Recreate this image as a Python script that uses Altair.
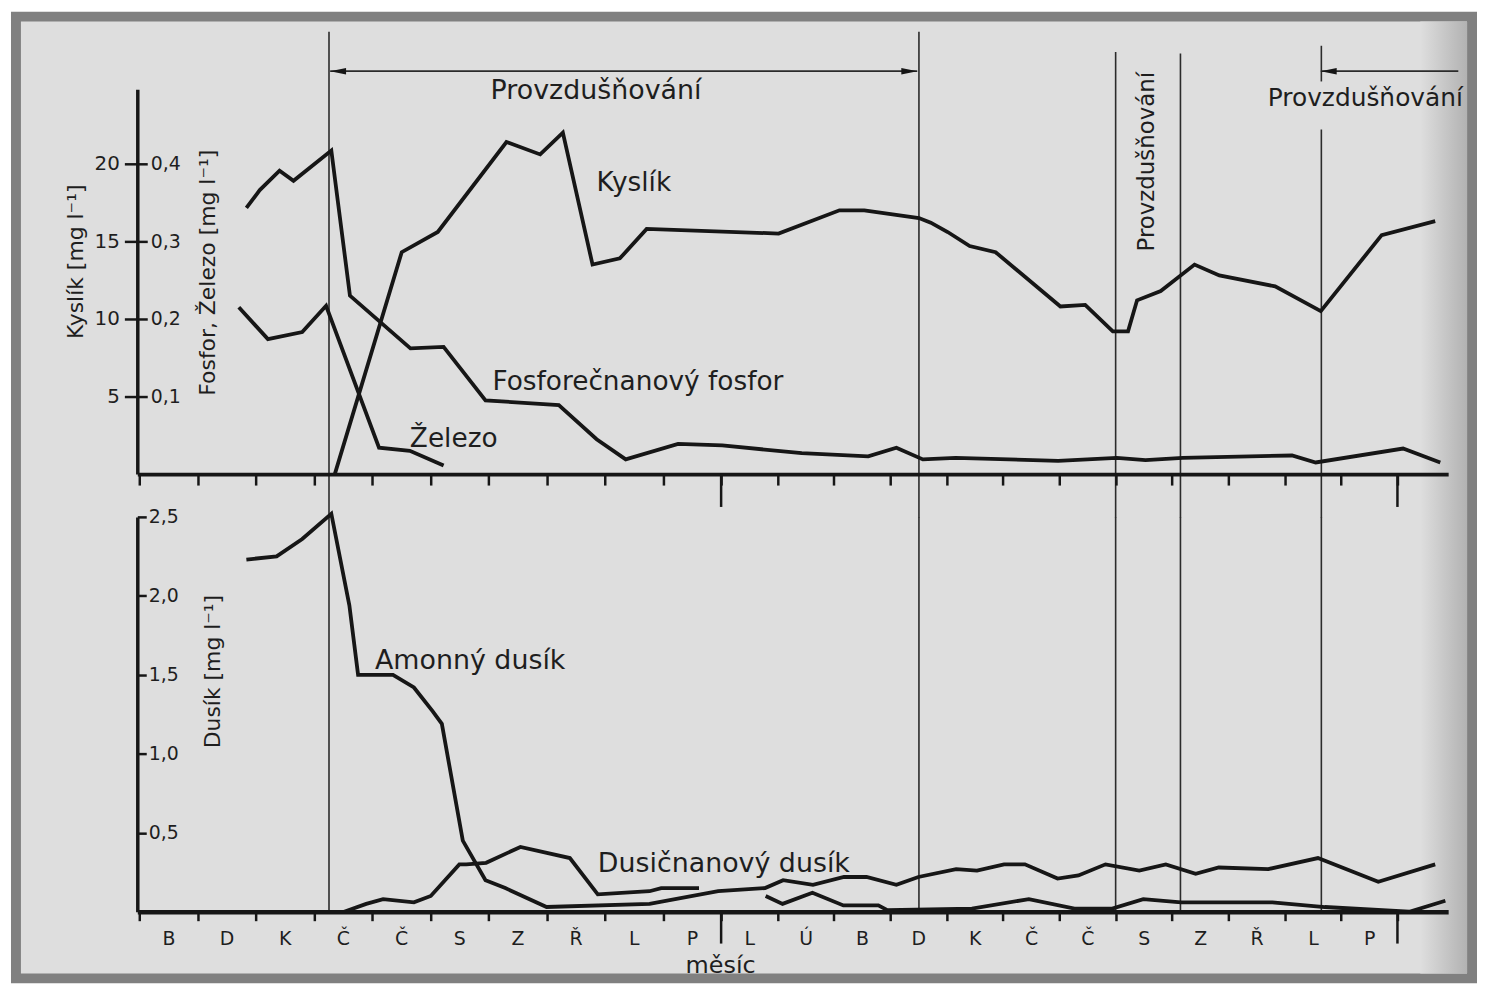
import json
import altair as alt
import pandas as pd

# ---------------- data (x = months since start, y = native units) ----------------
months = ["B", "D", "K", "Č", "Č", "S", "Z", "Ř", "L", "P",
          "L", "Ú", "B", "D", "K", "Č", "Č", "S", "Z", "Ř", "L", "P"]

kyslik_m = [3.36, 4.51, 5.13, 6.31, 6.89, 7.28, 7.79, 8.26, 8.72, 11.02, 12.10, 12.54,
            13.51, 13.72, 14.02, 14.41, 14.87, 16.02, 16.46, 16.95, 17.22, 17.38, 17.80,
            18.40, 18.84, 19.83, 20.64, 21.72, 22.67]
kyslik_v = [0.0, 14.3, 15.6, 21.4, 20.6, 22.0, 13.5, 13.9, 15.8, 15.5, 17.0, 17.0,
            16.5, 16.2, 15.6, 14.7, 14.3, 10.8, 10.9, 9.2, 9.2, 11.2, 11.8,
            13.5, 12.8, 12.1, 10.5, 15.4, 16.3]

fosfor_m = [1.84, 2.07, 2.41, 2.65, 3.30, 3.62, 4.66, 5.23, 5.95, 7.21, 7.86, 8.36, 9.26,
            10.02, 11.43, 12.61, 13.11, 13.58, 14.16, 15.98, 17.02, 17.53, 18.19, 20.13,
            20.55, 22.10, 22.76]
fosfor_v = [0.343, 0.366, 0.391, 0.378, 0.417, 0.230, 0.162, 0.164, 0.095, 0.089, 0.045,
            0.019, 0.039, 0.037, 0.027, 0.023, 0.034, 0.019, 0.021, 0.017, 0.021, 0.018,
            0.021, 0.024, 0.015, 0.033, 0.015]

zelezo_m = [1.71, 2.21, 2.80, 3.21, 4.12, 4.65, 5.23]
zelezo_v = [0.215, 0.174, 0.183, 0.217, 0.034, 0.030, 0.011]

amon_m = [1.84, 2.36, 2.80, 3.30, 3.61, 3.76, 4.36, 4.72, 5.04, 5.20, 5.56, 5.95, 6.29,
          7.00, 8.77, 9.95, 10.78, 11.10, 11.63, 12.18, 12.58, 13.11, 13.50, 14.17, 14.54,
          15.02, 15.39, 15.97, 16.34, 16.82, 17.42, 17.89, 18.42, 18.83, 19.71, 20.59,
          21.66, 22.67]
amon_v = [2.23, 2.25, 2.36, 2.52, 1.94, 1.50, 1.50, 1.42, 1.27, 1.19, 0.45, 0.20, 0.15,
          0.03, 0.05, 0.13, 0.15, 0.20, 0.17, 0.22, 0.22, 0.17, 0.22, 0.27, 0.26,
          0.30, 0.30, 0.21, 0.23, 0.30, 0.26, 0.30, 0.24, 0.28, 0.27, 0.34,
          0.19, 0.30]

dusic_m = [3.52, 3.90, 4.19, 4.72, 5.01, 5.50, 5.62, 5.96, 6.55, 7.40, 7.88, 8.77, 8.97, 9.62]
dusic_v = [0.0, 0.05, 0.08, 0.06, 0.10, 0.30, 0.30, 0.31, 0.41, 0.34, 0.11, 0.13, 0.15, 0.15]

nizky_m = [10.79, 11.09, 11.62, 12.17, 12.79, 12.95, 14.45, 15.46, 16.27, 16.94, 17.49,
           18.16, 19.78, 20.71, 22.21, 22.85]
nizky_v = [0.10, 0.05, 0.12, 0.04, 0.04, 0.01, 0.02, 0.08, 0.02, 0.02, 0.08,
           0.06, 0.06, 0.03, 0.0, 0.07]

aerace_m = [3.26, 13.51, 17.00, 18.15, 20.65]

# ---------------- layout / style ----------------
W, H_TOP, H_BOT = 1318, 387, 397
INK = "#161616"
FONT = "DejaVu Sans"
LW = 3.8

x_scale = alt.Scale(domain=[-0.035, 10, 22, 22.9], range=[0, 587, 1267, W])
y_top = alt.Scale(domain=[0, 24.8], nice=False, zero=False)
y_bot = alt.Scale(domain=[0, 2.5], nice=False, zero=False)

df_kys = pd.DataFrame({"m": kyslik_m, "v": kyslik_v})
df_fe = pd.concat([
    pd.DataFrame({"m": fosfor_m, "v": fosfor_v, "s": "fosfor"}),
    pd.DataFrame({"m": zelezo_m, "v": zelezo_v, "s": "zelezo"}),
])
df_amon = pd.DataFrame({"m": amon_m, "v": amon_v})
df_dusic = pd.DataFrame({"m": dusic_m, "v": dusic_v})
df_nizky = pd.DataFrame({"m": nizky_m, "v": nizky_v})


def XN(f="m:Q"):
    return alt.X(f, scale=x_scale, axis=None)


# ---------------- top panel ----------------
frame = alt.Chart(alt.Data(values=[{}])).mark_rect(
    fill="#dedede", stroke="#808080", strokeWidth=10
).encode(x=alt.value(-122), x2=alt.value(1342), y=alt.value(-73), y2=alt.value(894))

shade = alt.Chart(alt.Data(values=[{}])).mark_rect(
    fill=alt.LinearGradient(
        gradient="linear", x1=0, x2=1, y1=0, y2=0,
        stops=[alt.GradientStop(color="#dedede", offset=0),
               alt.GradientStop(color="#b2b2b2", offset=1)])
).encode(x=alt.value(1290), x2=alt.value(1337), y=alt.value(-68), y2=alt.value(889))

vl_top = pd.DataFrame({
    "m": aerace_m + [aerace_m[-1]],
    "y1": [28.5, 28.5, 27.2, 27.1, 27.6, 22.2],
    "y2": [-2.8, -2.8, -2.8, -2.8, 25.3, -2.8],
})
rules_top = alt.Chart(vl_top).mark_rule(color="#2b2b2b", strokeWidth=1.6).encode(
    x=XN(), y=alt.Y("y1:Q", scale=y_top, axis=None), y2="y2:Q")

kys_line = alt.Chart(df_kys).mark_line(color=INK, strokeWidth=LW).encode(
    x=alt.X("m:Q", scale=x_scale, axis=alt.Axis(
        orient="bottom", values=list(range(23)), labels=False, title=None, grid=False, zindex=1,
        domainColor=INK, domainWidth=4, tickColor=INK, tickWidth=2.5, tickSize=11)),
    y=alt.Y("v:Q", scale=y_top, axis=alt.Axis(
        orient="left", values=[5, 10, 15, 20], format="d", grid=False, zindex=1,
        domainColor=INK, domainWidth=3.5, tickColor=INK, tickWidth=2.5, tickSize=13,
        labelPadding=5, labelFontSize=20, labelColor="#1e1e1e",
        title="Kyslík [mg l⁻¹]", titleFontSize=22, titleAngle=270,
        titleX=-62, titleY=173, titleAlign="center", titleBaseline="middle")),
)

fe_line = alt.Chart(df_fe).transform_calculate(k="datum.v * 50").mark_line(
    color=INK, strokeWidth=LW).encode(
    x=XN(),
    y=alt.Y("k:Q", scale=y_top, axis=alt.Axis(
        orient="right", offset=-W, values=[5, 10, 15, 20], grid=False, domain=False, zindex=1,
        labelExpr="replace(format(datum.value / 50, '.1f'), '.', ',')",
        tickColor=INK, tickWidth=2.5, tickSize=10, labelPadding=3,
        labelFontSize=19, labelColor="#1e1e1e",
        title="Fosfor, Železo [mg l⁻¹]", titleFontSize=22, titleAngle=270,
        titleX=71, titleY=184, titleAlign="center", titleBaseline="middle")),
    detail="s:N",
)

PATH_L = "M0,0L2,-0.42L2,0.42Z"
PATH_R = "M0,0L-2,-0.42L-2,0.42Z"
arrow_lines = alt.Chart(pd.DataFrame({"a": [3.28, 20.64], "b": [13.48, 23.08], "y": [25.96, 25.96]})
                        ).mark_rule(color="#2b2b2b", strokeWidth=1.8).encode(
    x=XN("a:Q"), x2="b:Q", y=alt.Y("y:Q", scale=y_top, axis=None))
arrow_heads = alt.Chart(pd.DataFrame({"m": [3.28, 13.48, 20.64], "y": [25.96] * 3,
                                      "d": ["L", "R", "L"]})).mark_point(
    filled=True, size=256, color=INK, opacity=1).encode(
    x=XN(), y=alt.Y("y:Q", scale=y_top, axis=None),
    shape=alt.Shape("d:N", scale=alt.Scale(domain=["L", "R"], range=[PATH_L, PATH_R]), legend=None))

txt_a1 = alt.Chart(pd.DataFrame({"m": [7.85], "v": [24.17], "t": ["Provzdušňování"]})).mark_text(
    font=FONT, fontSize=27, color="#1e1e1e", align="center", baseline="alphabetic").encode(
    x=XN(), y=alt.Y("v:Q", scale=y_top, axis=None), text="t:N")
txt_a2 = alt.Chart(pd.DataFrame({"m": [21.43], "v": [23.72], "t": ["Provzdušňování"]})).mark_text(
    font=FONT, fontSize=25, color="#1e1e1e", align="center", baseline="alphabetic").encode(
    x=XN(), y=alt.Y("v:Q", scale=y_top, axis=None), text="t:N")
txt_l = alt.Chart(pd.DataFrame({"m": [7.86, 6.07, 4.65], "v": [18.27, 5.45, 1.73],
                                "t": ["Kyslík", "Fosforečnanový fosfor", "Železo"]})).mark_text(
    font=FONT, fontSize=26.5, color="#1e1e1e", align="left", baseline="alphabetic").encode(
    x=XN(), y=alt.Y("v:Q", scale=y_top, axis=None), text="t:N")
txt_v = alt.Chart(pd.DataFrame({"m": [17.55], "v": [20.13], "t": ["Provzdušňování"]})).mark_text(
    font=FONT, fontSize=23, color="#1e1e1e", align="center", baseline="middle", angle=270).encode(
    x=XN(), y=alt.Y("v:Q", scale=y_top, axis=None), text="t:N")

long_top = alt.Chart(pd.DataFrame({"m": [10, 22]})).mark_rule(color=INK, strokeWidth=2.5).encode(
    x=XN(), y=alt.value(H_TOP), y2=alt.value(H_TOP + 33))

top = alt.layer(frame, shade, rules_top, kys_line, fe_line, arrow_lines, arrow_heads,
                txt_a1, txt_a2, txt_l, txt_v, long_top
                ).resolve_axis(x="independent", y="independent").properties(
    width=W, height=H_TOP)

# ---------------- bottom panel ----------------
rules_bot = alt.Chart(pd.DataFrame({"m": aerace_m, "y1": [2.5] * 5, "y2": [0] * 5})).mark_rule(
    color="#2b2b2b", strokeWidth=1.6).encode(
    x=XN(), y=alt.Y("y1:Q", scale=y_bot, axis=None), y2="y2:Q")

amon_line = alt.Chart(df_amon).mark_line(color=INK, strokeWidth=LW).encode(
    x=alt.X("m:Q", scale=x_scale, axis=alt.Axis(
        orient="bottom", values=list(range(23)), labels=False, title=None, grid=False, zindex=1,
        domainColor=INK, domainWidth=4.5, tickColor=INK, tickWidth=2.5, tickSize=9)),
    y=alt.Y("v:Q", scale=y_bot, axis=alt.Axis(
        orient="right", offset=-W, values=[0.5, 1.0, 1.5, 2.0, 2.5], grid=False, zindex=1,
        labelExpr="replace(format(datum.value, '.1f'), '.', ',')",
        domainColor=INK, domainWidth=3.5, tickColor=INK, tickWidth=2.5, tickSize=9,
        labelPadding=2, labelFontSize=19, labelColor="#1e1e1e",
        title="Dusík [mg l⁻¹]", titleFontSize=22, titleAngle=270,
        titleX=76, titleY=155, titleAlign="center", titleBaseline="middle")),
)
dusic_line = alt.Chart(df_dusic).mark_line(color=INK, strokeWidth=LW).encode(
    x=XN(), y=alt.Y("v:Q", scale=y_bot, axis=None))

month_expr = json.dumps(months, ensure_ascii=False) + "[floor(datum.value)]"
nizky_line = alt.Chart(df_nizky).mark_line(color=INK, strokeWidth=LW).encode(
    x=alt.X("m:Q", scale=x_scale, axis=alt.Axis(
        orient="bottom", values=[i + 0.5 for i in range(len(months))], labelExpr=month_expr,
        domain=False, ticks=False, tickSize=0, grid=False, labelPadding=18, zindex=1,
        labelFontSize=19, labelColor="#1e1e1e", labelFont=FONT,
        title="měsíc", titleFontSize=24, titleX=586, titleY=54,
        titleAlign="center", titleBaseline="middle")),
    y=alt.Y("v:Q", scale=y_bot, axis=None))

long_bot = alt.Chart(pd.DataFrame({"m": [10, 22]})).mark_rule(color=INK, strokeWidth=2.5).encode(
    x=XN(), y=alt.value(H_BOT), y2=alt.value(H_BOT + 32))

txt_b = alt.Chart(pd.DataFrame({"m": [4.05, 7.88], "v": [1.54, 0.25],
                                "t": ["Amonný dusík", "Dusičnanový dusík"]})).mark_text(
    font=FONT, fontSize=27, color="#1e1e1e", align="left", baseline="alphabetic").encode(
    x=XN(), y=alt.Y("v:Q", scale=y_bot, axis=None), text="t:N")

bottom = alt.layer(rules_bot, amon_line, dusic_line, nizky_line, long_bot, txt_b
                   ).resolve_axis(x="independent", y="independent").properties(
    width=W, height=H_BOT)

chart = alt.vconcat(top, bottom, spacing=43, bounds="flush").properties(
    padding={"left": 2, "top": 0, "right": 0, "bottom": 0}, background="white"
).configure_view(stroke="transparent").configure_axis(
    labelFont=FONT, titleFont=FONT, titleFontWeight="normal", titleColor="#1e1e1e"
)

chart.save("out.html", embed_options={"renderer": "svg", "actions": False})
